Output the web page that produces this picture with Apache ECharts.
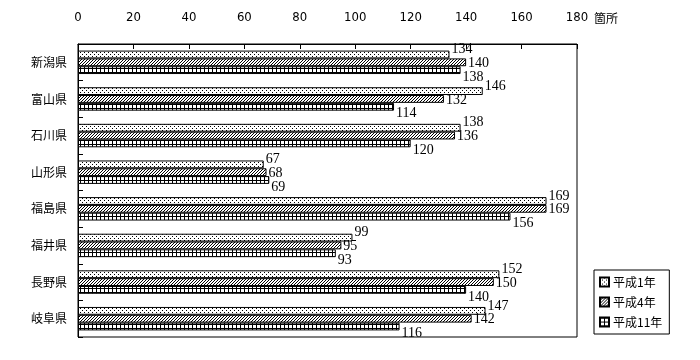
<!DOCTYPE html>
<html><head><meta charset="utf-8">
<script src="https://cdn.jsdelivr.net/npm/echarts@6/dist/echarts.min.js"></script>
<style>html,body{margin:0;padding:0;background:#fff}#c{width:700px;height:360px}</style>
</head><body><div id="c"></div>
<script>
var categories = ['新潟県','富山県','石川県','山形県','福島県','福井県','長野県','岐阜県'];
var seriesNames = ['平成1年','平成4年','平成11年'];
var valuesH1 = [134,146,138,67,169,99,152,147];
var valuesH4 = [140,132,136,68,169,95,150,142];
var valuesH11 = [138,114,120,69,156,93,140,116];
var xTicks = {min:0, max:180, interval:20};
var unitLabel = '箇所';

function makePattern(w, h, pts){
  var c = document.createElement('canvas');
  c.width = w; c.height = h;
  var ctx = c.getContext('2d');
  ctx.fillStyle = '#fff'; ctx.fillRect(0,0,w,h);
  ctx.fillStyle = '#000';
  pts.forEach(function(p){ ctx.fillRect(p[0],p[1],1,1); });
  return {image: c, repeat: 'repeat'};
}
var patDots = makePattern(4,4,[[0,0],[2,2]]);
var patHatch = makePattern(3,3,[[2,0],[1,1],[0,2]]);
var gridPts = [];
for (var i=0;i<4;i++){ gridPts.push([i,0]); gridPts.push([0,i]); }
var patGrid = makePattern(4,4,gridPts);

var pats = [patDots, patHatch, patGrid];
var vals = [valuesH1, valuesH4, valuesH11];
var labelOffsets = [[1,-5],[1,1],[1,7]];

var chart = echarts.init(document.getElementById('c'), null, {renderer:'canvas'});
var numFont = "'Liberation Serif', serif";
var series = vals.map(function(v, k){
  return {
    name: seriesNames[k], type: 'bar', data: v,
    barGap: '0%', barCategoryGap: '36%',
    itemStyle: {color: pats[k], borderColor: '#000', borderWidth: 1},
    label: {show: true, position: 'right', distance: 1, offset: labelOffsets[k],
      color: '#000', fontSize: 14, fontFamily: numFont},
    emphasis: {disabled: true},
    animation: false
  };
});

chart.setOption({
  animation: false,
  backgroundColor: '#fff',
  grid: {left: 78, top: 44, right: 123, bottom: 23, show: true, borderColor: '#000', borderWidth: 1, backgroundColor: 'transparent'},
  xAxis: {
    type: 'value', position: 'top', min: xTicks.min, max: xTicks.max, interval: xTicks.interval,
    axisLine: {show: true, lineStyle: {color: '#000', width: 1}},
    axisTick: {show: true, inside: true, length: 5, lineStyle: {color: '#000'}},
    axisLabel: {color: '#000', fontSize: 13, margin: 20, fontFamily: "'Liberation Sans Narrow','DejaVu Sans Condensed',sans-serif"},
    splitLine: {show: false}
  },
  yAxis: {
    type: 'category', data: categories, inverse: true,
    axisLine: {show: true, lineStyle: {color: '#000', width: 1}},
    axisTick: {show: true, inside: true, length: 5, lineStyle: {color: '#000'}},
    axisLabel: {color: '#000', fontSize: 12, margin: 11, fontFamily: "'Noto Sans CJK JP', sans-serif"}
  },
  legend: {
    orient: 'vertical', left: 594, top: 270, padding: [6, 7, 6, 5],
    itemWidth: 9, itemHeight: 9, itemGap: 8,
    borderColor: '#000', borderWidth: 1,
    icon: 'rect',
    textStyle: {color: '#000', fontSize: 12, fontFamily: "'Noto Sans CJK JP', sans-serif", padding: [0,0,0,-1]},
    data: seriesNames
  },
  graphic: [{type: 'text', left: 594, top: 12, style: {text: unitLabel, fill: '#000', font: "12px 'Noto Sans CJK JP', sans-serif"}}],
  series: series
});
</script></body></html>
